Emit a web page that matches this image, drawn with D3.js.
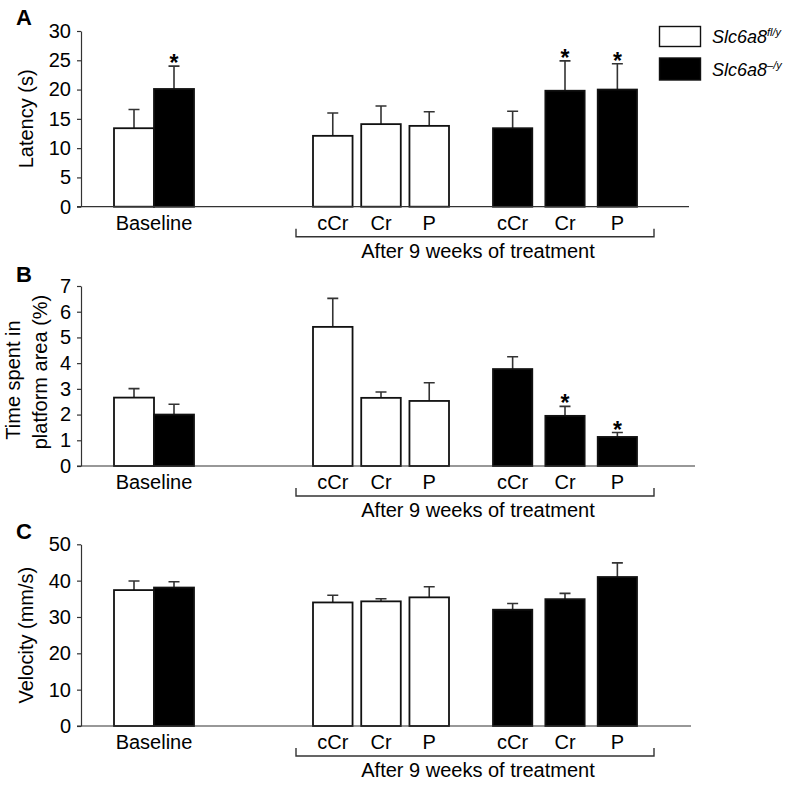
<!DOCTYPE html>
<html>
<head>
<meta charset="utf-8">
<script src="https://cdn.jsdelivr.net/npm/d3@7"></script>
<style>
body { margin: 0; background: #fff; }
svg { display: block; }
text { font-family: "Liberation Sans", Arial, Helvetica, sans-serif; fill: #000; }
</style>
</head>
<body>
<script>
// categories
const treatments = ['Baseline', 'cCr', 'Cr', 'P'];
const genotypes = ['fl', 'ko'];
const genotypeSup = ['fl/y', '\u2013/y'];

// panel A: latency (s), mean and SEM
const latencyFl = [13.4, 12.1, 14.1, 13.8];
const latencyFlSem = [3.2, 3.9, 3.1, 2.4];
const latencyKo = [20.1, 13.4, 19.8, 20.0];
const latencyKoSem = [3.9, 2.9, 5.1, 4.4];
const latencyStars = ['ko-Baseline', 'ko-Cr', 'ko-P'];
const latencyTicks = [0, 5, 10, 15, 20, 25, 30];

// panel B: time spent in platform area (%)
const platformFl = [2.66, 5.41, 2.65, 2.53];
const platformFlSem = [0.35, 1.11, 0.23, 0.71];
const platformKo = [2.0, 3.77, 1.95, 1.13];
const platformKoSem = [0.4, 0.48, 0.37, 0.17];
const platformStars = ['ko-Cr', 'ko-P'];
const platformTicks = [0, 1, 2, 3, 4, 5, 6, 7];

// panel C: velocity (mm/s)
const velocityFl = [37.4, 34.0, 34.3, 35.4];
const velocityFlSem = [2.5, 2.0, 0.7, 2.9];
const velocityKo = [38.1, 32.0, 34.9, 41.0];
const velocityKoSem = [1.6, 1.7, 1.6, 3.9];
const velocityStars = [];
const velocityTicks = [0, 10, 20, 30, 40, 50];

const svg = d3.select('body').append('svg')
  .attr('width', 789)
  .attr('height', 789);

const font = '"Liberation Sans", Arial, Helvetica, sans-serif';
const fs = '20px';

// x scales shared by all panels
const xBase = d3.scaleBand().domain(genotypes).range([114, 194]);
const xFl = d3.scaleBand().domain(treatments.slice(1)).range([313, 449]).paddingInner(0.18);
const xKo = d3.scaleBand().domain(treatments.slice(1)).range([493, 637]).paddingInner(0.25);

function barX(t, g) {
  if (t === 'Baseline') return xBase(g);
  return g === 'fl' ? xFl(t) : xKo(t);
}
function barW(t, g) {
  if (t === 'Baseline') return xBase.bandwidth();
  return g === 'fl' ? xFl.bandwidth() : xKo.bandwidth();
}

const panels = [
  { letter: 'A', bottom: 206.7, top: 31, axisEnd: 689, letterY: 25,
    label: ['Latency (s)'], ticks: latencyTicks,
    fl: latencyFl, flSem: latencyFlSem, ko: latencyKo, koSem: latencyKoSem, stars: latencyStars },
  { letter: 'B', bottom: 466, top: 286, axisEnd: 695, letterY: 282,
    label: ['Time spent in', 'platform area (%)'], ticks: platformTicks,
    fl: platformFl, flSem: platformFlSem, ko: platformKo, koSem: platformKoSem, stars: platformStars },
  { letter: 'C', bottom: 726, top: 544.3, axisEnd: 691, letterY: 539,
    label: ['Velocity (mm/s)'], ticks: velocityTicks,
    fl: velocityFl, flSem: velocityFlSem, ko: velocityKo, koSem: velocityKoSem, stars: velocityStars }
];

panels.forEach(function (p) {
  const g = svg.append('g');
  const y = d3.scaleLinear()
    .domain([0, d3.max(p.ticks)])
    .range([p.bottom, p.top]);

  // panel letter
  g.append('text')
    .attr('x', 16)
    .attr('y', p.letterY)
    .style('font-size', '22px')
    .style('font-weight', 'bold')
    .text(p.letter);

  // y axis
  const yAxis = g.append('g')
    .attr('transform', 'translate(81,0)')
    .call(d3.axisLeft(y).tickValues(p.ticks).tickFormat(d3.format('d'))
      .tickSize(4).tickSizeOuter(0).tickPadding(6));
  yAxis.select('.domain').attr('stroke', '#333').attr('stroke-width', 1.2);
  yAxis.selectAll('.tick line').attr('stroke', '#333').attr('stroke-width', 1.2);
  yAxis.selectAll('.tick text')
    .style('font-size', fs)
    .style('font-family', font)
    .attr('fill', '#000');

  // y label
  const midY = (p.top + p.bottom) / 2;
  if (p.label.length === 1) {
    g.append('text')
      .attr('transform', 'translate(33,' + midY + ') rotate(-90)')
      .attr('text-anchor', 'middle')
      .style('font-size', fs)
      .text(p.label[0]);
  } else {
    g.append('text')
      .attr('transform', 'translate(20,' + (midY + 4) + ') rotate(-90)')
      .attr('text-anchor', 'middle')
      .style('font-size', fs)
      .text(p.label[0]);
    g.append('text')
      .attr('transform', 'translate(47,' + (midY - 4) + ') rotate(-90)')
      .attr('text-anchor', 'middle')
      .style('font-size', fs)
      .text(p.label[1]);
  }

  // bars
  const rows = [];
  treatments.forEach(function (t, i) {
    genotypes.forEach(function (gt) {
      rows.push({
        t: t, g: gt,
        mean: gt === 'fl' ? p.fl[i] : p.ko[i],
        sem: gt === 'fl' ? p.flSem[i] : p.koSem[i],
        star: p.stars.indexOf(gt + '-' + t) >= 0
      });
    });
  });

  // error bars first, so the bar outline covers the stem base
  g.selectAll('.err')
    .data(rows)
    .enter()
    .append('path')
    .attr('class', 'err')
    .attr('fill', 'none')
    .attr('stroke', '#333')
    .attr('stroke-width', 1.6)
    .attr('d', function (d) {
      const cx = barX(d.t, d.g) + barW(d.t, d.g) / 2;
      const y0 = y(d.mean);
      const y1 = y(d.mean + d.sem);
      return 'M' + cx + ',' + y0 + 'V' + y1 + 'M' + (cx - 5.5) + ',' + y1 + 'H' + (cx + 5.5);
    });

  g.selectAll('.bar')
    .data(rows)
    .enter()
    .append('rect')
    .attr('class', 'bar')
    .attr('x', function (d) { return barX(d.t, d.g); })
    .attr('width', function (d) { return barW(d.t, d.g); })
    .attr('y', function (d) { return y(d.mean); })
    .attr('height', function (d) { return y(0) - y(d.mean); })
    .attr('fill', function (d) { return d.g === 'fl' ? '#fff' : '#000'; })
    .attr('stroke', '#111')
    .attr('stroke-width', 1.8);

  // significance stars
  g.selectAll('.star')
    .data(rows.filter(function (d) { return d.star; }))
    .enter()
    .append('text')
    .attr('class', 'star')
    .attr('x', function (d) { return barX(d.t, d.g) + barW(d.t, d.g) / 2; })
    .attr('y', function (d) { return y(d.mean + d.sem) + 5; })
    .attr('text-anchor', 'middle')
    .style('font-size', '23px')
    .style('font-weight', 'bold')
    .text('*');

  // x axis line
  g.append('line')
    .attr('x1', 77).attr('x2', p.axisEnd)
    .attr('y1', y(0)).attr('y2', y(0))
    .attr('stroke', '#333')
    .attr('stroke-width', 1.2);

  // category labels
  const labY = y(0) + 23;
  g.append('text')
    .attr('x', (xBase.range()[0] + xBase.range()[1]) / 2)
    .attr('y', labY)
    .attr('text-anchor', 'middle')
    .style('font-size', fs)
    .text(treatments[0]);

  [xFl, xKo].forEach(function (sc) {
    g.selectAll(null)
      .data(treatments.slice(1))
      .enter()
      .append('text')
      .attr('x', function (d) { return sc(d) + sc.bandwidth() / 2; })
      .attr('y', labY)
      .attr('text-anchor', 'middle')
      .style('font-size', fs)
      .text(function (d) { return d; });
  });

  // bracket under treatment groups
  const bx0 = xFl.range()[0] - 17;
  const bx1 = xKo.range()[1] + 17;
  const bt = y(0) + 22;
  const bb = y(0) + 30;
  g.append('path')
    .attr('fill', 'none')
    .attr('stroke', '#333')
    .attr('stroke-width', 1.4)
    .attr('d', 'M' + bx0 + ',' + bt + 'V' + bb + 'H' + bx1 + 'V' + bt);

  g.append('text')
    .attr('x', 478)
    .attr('y', y(0) + 51)
    .attr('text-anchor', 'middle')
    .style('font-size', fs)
    .text('After 9 weeks of treatment');
});

// legend
const legend = svg.append('g');
genotypes.forEach(function (gt, i) {
  legend.append('rect')
    .attr('x', 659.5)
    .attr('y', i === 0 ? 26.5 : 58)
    .attr('width', 41)
    .attr('height', i === 0 ? 20 : 22)
    .attr('fill', gt === 'fl' ? '#fff' : '#000')
    .attr('stroke', '#111')
    .attr('stroke-width', 1.4);
  const t = legend.append('text')
    .attr('x', 712)
    .attr('y', i === 0 ? 43 : 76)
    .style('font-size', '18px')
    .style('font-style', 'italic');
  t.append('tspan').text('Slc6a8');
  t.append('tspan')
    .attr('dy', -7)
    .style('font-size', '11px')
    .text(genotypeSup[i]);
});
</script>
</body>
</html>
